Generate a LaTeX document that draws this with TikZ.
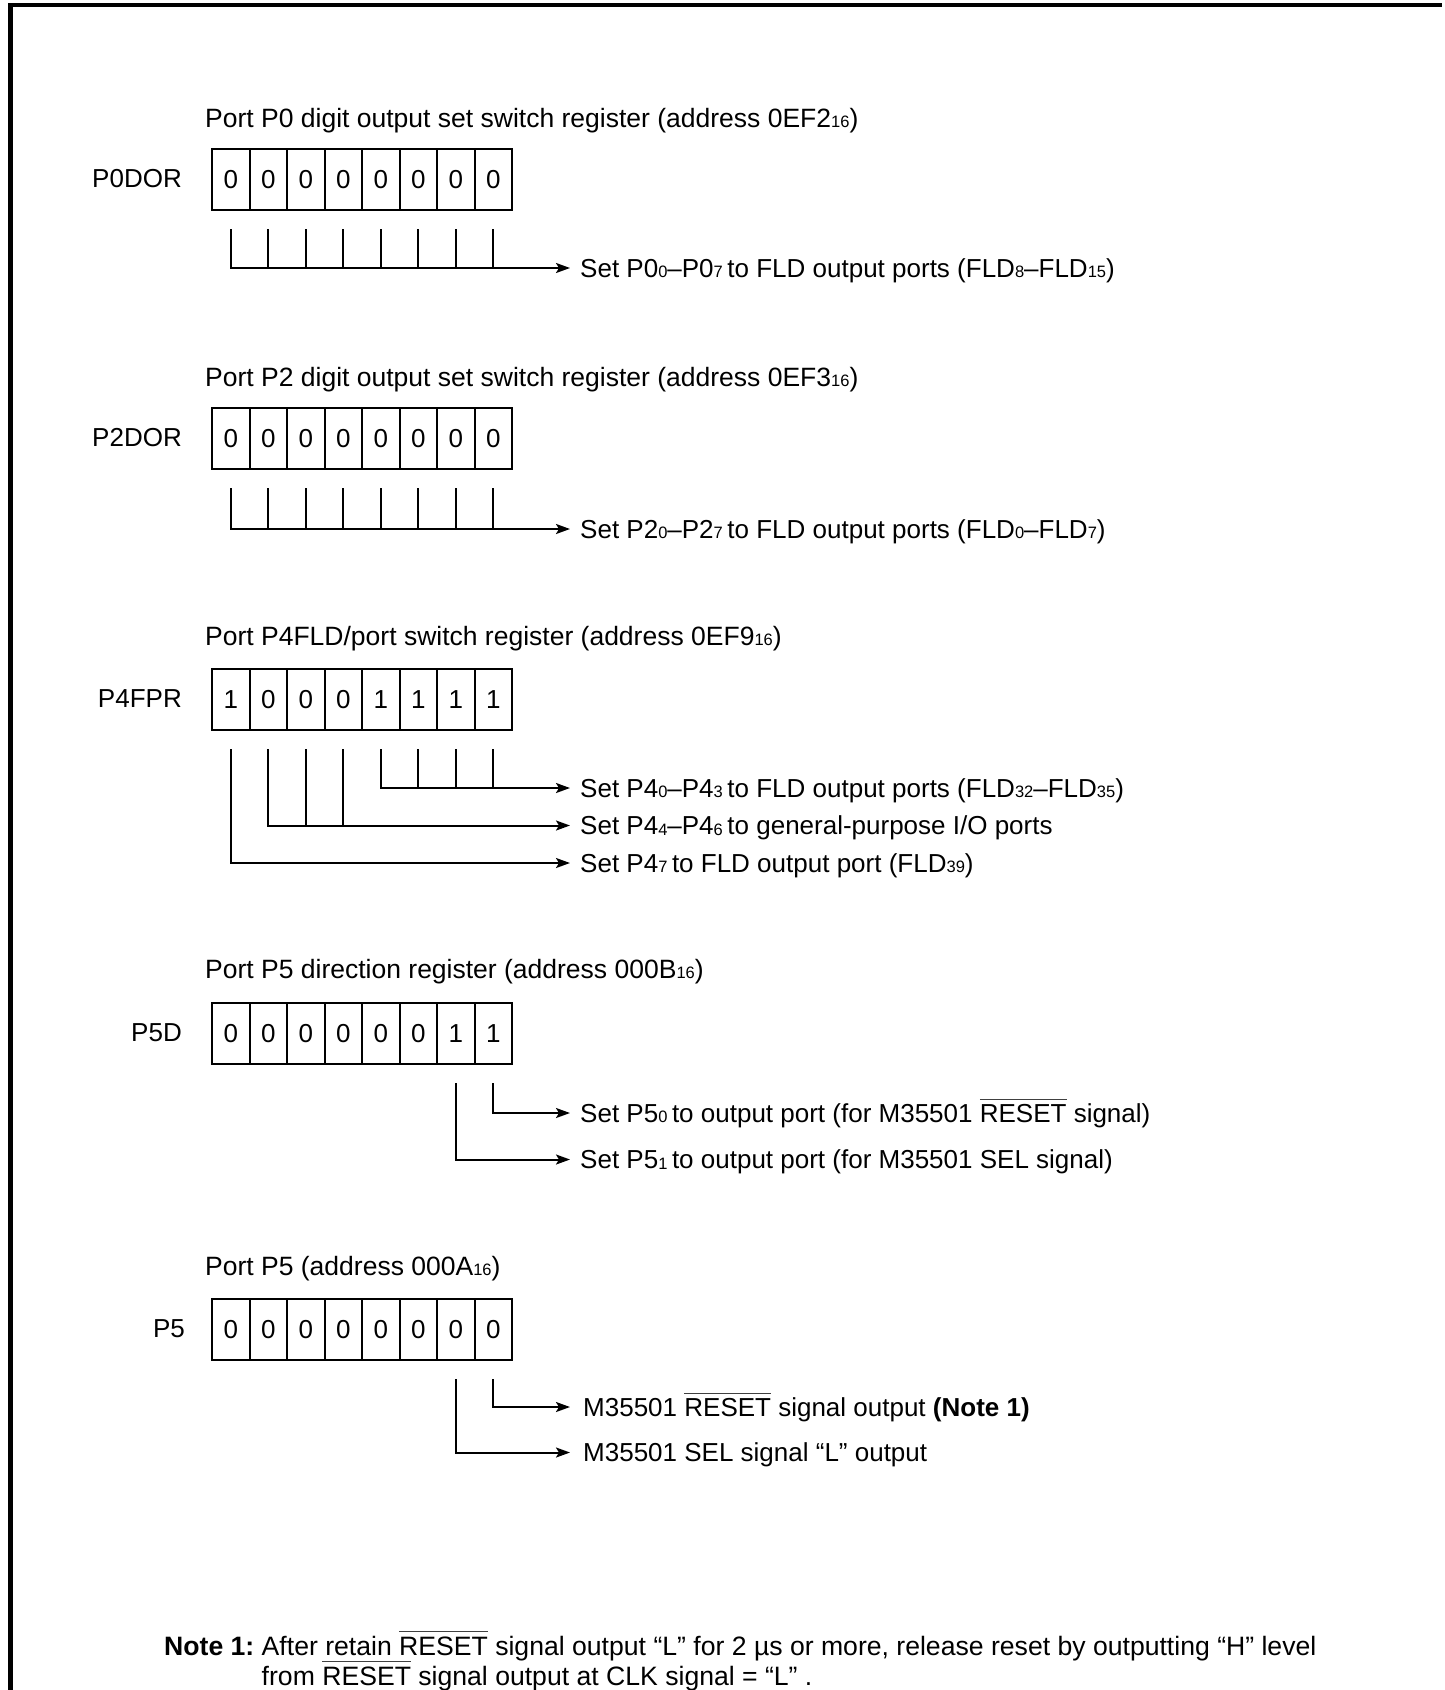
\documentclass[tikz,border=0pt]{standalone}
\usepackage{fontspec}
\setmainfont{Liberation Sans}
\usetikzlibrary{arrows.meta}
\newcommand\sbs[1]{\raisebox{-0.5pt}{\fontsize{16.5}{16.5}\selectfont #1}}
\newcommand\ovl[1]{\setbox0\hbox{#1}\rlap{\color{black!75}\rule[0.86em]{\wd0}{1.3pt}}\box0\relax}
\newcommand\notelbl{\textbf{Note 1:}\ }
\begin{document}
\begin{tikzpicture}[x=1pt,y=-1pt,
  txt/.style={font=\fontsize{26}{31}\selectfont, inner sep=0pt, anchor=west, text height=18.6pt, text depth=0pt},
  ttl/.style={txt, font=\fontsize{26.5}{31}\selectfont},
  notetxt/.style={txt, font=\fontsize{26.6}{31}\selectfont},
  lbl/.style={font=\fontsize{26}{31}\selectfont, inner sep=0pt, anchor=east, text height=18.6pt, text depth=0pt},
  cell/.style={draw, line width=2.2pt, minimum width=37.5pt, minimum height=61pt, inner sep=0pt, font=\fontsize{26}{31}\selectfont, anchor=north west},
  wire/.style={line width=2pt},
  arr/.style={line width=2pt, -{Stealth[length=14pt,width=10pt,inset=3pt]}},
  frame/.style={line width=4.5pt}]
\useasboundingbox (0,0) rectangle (1445,1690);
% frame
\draw[frame] (10.5,1690) -- (10.5,5) -- (1442,5);

% ---------- register 1: P0DOR ----------
\node[ttl] (At) at (205,118) {Port P0 digit output set switch register (address 0EF2\sbs{16})};
\foreach \b [count=\i] in {0,0,0,0,0,0,0,0}
  \node[cell] (Ac\i) at ({211+(\i-1)*37.5},148) {\b};
\node[lbl] (Al) at (182,178.5) {P0DOR};
\node[txt] (Ao1) at (580,268) {Set P0\sbs{0}–P0\sbs{7 }to FLD output ports (FLD\sbs{8}–FLD\sbs{15})};
\draw[arr] ([yshift=-18pt]Ac1.south) |- ([xshift=-10pt]Ao1.west);
\foreach \i in {2,...,8}
  \draw[wire] ([yshift=-18pt]Ac\i.south) -- (Ac\i.south |- Ao1.west);

% ---------- register 2: P2DOR ----------
\node[ttl] (Bt) at (205,377) {Port P2 digit output set switch register (address 0EF3\sbs{16})};
\foreach \b [count=\i] in {0,0,0,0,0,0,0,0}
  \node[cell] (Bc\i) at ({211+(\i-1)*37.5},407) {\b};
\node[lbl] (Bl) at (182,437.5) {P2DOR};
\node[txt] (Bo1) at (580,529) {Set P2\sbs{0}–P2\sbs{7 }to FLD output ports (FLD\sbs{0}–FLD\sbs{7})};
\draw[arr] ([yshift=-18pt]Bc1.south) |- ([xshift=-10pt]Bo1.west);
\foreach \i in {2,...,8}
  \draw[wire] ([yshift=-18pt]Bc\i.south) -- (Bc\i.south |- Bo1.west);

% ---------- register 3: P4FPR ----------
\node[ttl] (Ct) at (205,636) {Port P4FLD/port switch register (address 0EF9\sbs{16})};
\foreach \b [count=\i] in {1,0,0,0,1,1,1,1}
  \node[cell] (Cc\i) at ({211+(\i-1)*37.5},668) {\b};
\node[lbl] (Cl) at (182,698.5) {P4FPR};
\node[txt] (Co1) at (580,788) {Set P4\sbs{0}–P4\sbs{3 }to FLD output ports (FLD\sbs{32}–FLD\sbs{35})};
\node[txt] (Co2) at (580,825.5) {Set P4\sbs{4}–P4\sbs{6 }to general-purpose I/O ports};
\node[txt] (Co3) at (580,863) {Set P4\sbs{7 }to FLD output port (FLD\sbs{39})};
\draw[arr] ([yshift=-18pt]Cc5.south) |- ([xshift=-10pt]Co1.west);
\foreach \i in {6,7,8}
  \draw[wire] ([yshift=-18pt]Cc\i.south) -- (Cc\i.south |- Co1.west);
\draw[arr] ([yshift=-18pt]Cc2.south) |- ([xshift=-10pt]Co2.west);
\foreach \i in {3,4}
  \draw[wire] ([yshift=-18pt]Cc\i.south) -- (Cc\i.south |- Co2.west);
\draw[arr] ([yshift=-18pt]Cc1.south) |- ([xshift=-10pt]Co3.west);

% ---------- register 4: P5D ----------
\node[ttl] (Dt) at (205,969) {Port P5 direction register (address 000B\sbs{16})};
\foreach \b [count=\i] in {0,0,0,0,0,0,1,1}
  \node[cell] (Dc\i) at ({211+(\i-1)*37.5},1002) {\b};
\node[lbl] (Dl) at (182,1032.5) {P5D};
\node[txt] (Do1) at (580,1113) {Set P5\sbs{0 }to output port (for M35501 \ovl{RESET} signal)};
\node[txt] (Do2) at (580,1159.5) {Set P5\sbs{1 }to output port (for M35501 SEL signal)};
\draw[arr] ([yshift=-18pt]Dc8.south) |- ([xshift=-10pt]Do1.west);
\draw[arr] ([yshift=-18pt]Dc7.south) |- ([xshift=-10pt]Do2.west);

% ---------- register 5: P5 ----------
\node[ttl] (Et) at (205,1266) {Port P5 (address 000A\sbs{16})};
\foreach \b [count=\i] in {0,0,0,0,0,0,0,0}
  \node[cell] (Ec\i) at ({211+(\i-1)*37.5},1298) {\b};
\node[lbl] (El) at (185,1328.5) {P5};
\node[txt] (Eo1) at (583,1407) {M35501 \ovl{RESET} signal output \textbf{(Note 1)}};
\node[txt] (Eo2) at (583,1452.5) {M35501 SEL signal “L” output};
\draw[arr] ([yshift=-18pt]Ec8.south) |- ([xshift=-13pt]Eo1.west);
\draw[arr] ([yshift=-18pt]Ec7.south) |- ([xshift=-13pt]Eo2.west);

% ---------- note ----------
\node[notetxt] (N1) at (164,1646) {\notelbl After retain \ovl{RESET} signal output “L” for 2 µs or more, release reset by outputting “H” level};
\node[notetxt] (N2) at (N1.west |- 0,1676) {\phantom{\notelbl}from \ovl{RESET} signal output at CLK signal = “L” .};
\end{tikzpicture}
\end{document}
